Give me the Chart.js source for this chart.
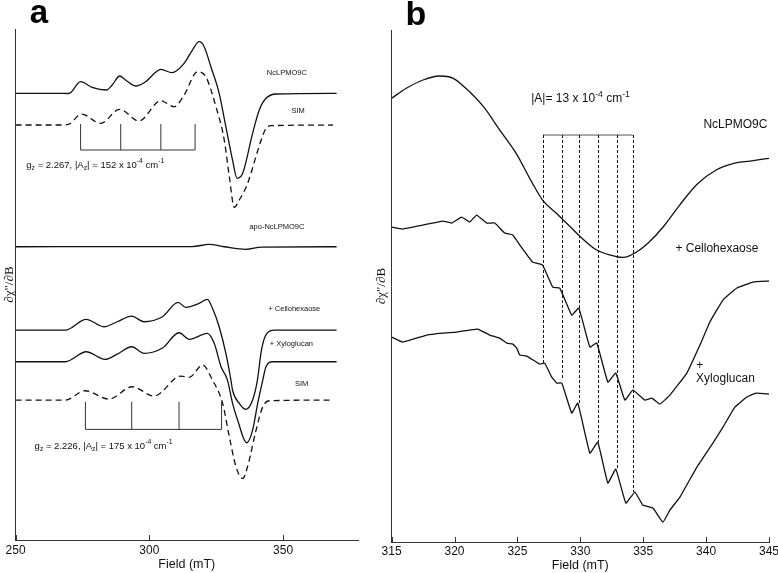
<!DOCTYPE html>
<html>
<head>
<meta charset="utf-8">
<script src="https://cdn.jsdelivr.net/npm/chart.js@4.4.1/dist/chart.umd.min.js"></script>
<style>
  body { margin: 0; background: #fff; width: 778px; height: 573px; position: relative; overflow: hidden; }
  canvas { position: absolute; top: 0; }
  #ca { left: 0; }
  #cb { left: 372px; }
</style>
</head>
<body>
<canvas id="ca" width="372" height="573"></canvas>
<canvas id="cb" width="406" height="573"></canvas>
<script>
  // ---- panel a : X-band spectra, field (mT) vs stacked intensity (arb.)
  const ncFieldA = [250, 265, 269.9, 274.3, 278.6, 283.9, 286.1, 288.9, 291.1, 294.9, 298.6, 304.3, 308.4, 313, 316.1, 318.6, 320.5, 323, 326.1, 328.6, 331.1, 332.8, 334.9, 338.6, 341.1, 343.6, 347.4, 370];
  const ncIntA = [446.7, 446.7, 446.5, 458.3, 452.7, 450, 455, 464, 460, 454, 458.3, 470.7, 467.3, 476.7, 490, 498.3, 493.3, 473.3, 446.7, 413.3, 380, 361.7, 366.7, 406.7, 430, 441.7, 446, 446.7];

  const simFieldA = [250, 266, 270, 274.6, 281.8, 288.9, 296.1, 304.3, 309.3, 313, 318, 321.1, 324.9, 328, 329.9, 331.75, 333.6, 336.5, 341.8, 343.6, 345.5, 368.6];
  const simIntA = [415, 415, 416, 426, 416.7, 430.7, 419, 439.3, 433.3, 445, 468.3, 463.3, 433.3, 400, 363.3, 332.7, 340, 355, 400, 411.7, 414.3, 415];

  const apoFieldA = [250, 300, 316, 322.4, 328, 336.1, 342, 370];
  const apoIntA = [293.3, 293.5, 293.4, 295.7, 293.3, 290.7, 293, 293.3];

  const celloFieldA = [250, 268.6, 276.4, 283, 288, 293.4, 298, 304.9, 310.75, 313.6, 318.6, 321.7, 323.6, 326.1, 328.6, 330.5, 331.1, 333.6, 336.1, 338.6, 340.4, 341.9, 343.75, 346.75, 370];
  const celloIntA = [210, 210, 220.7, 213.3, 218.3, 224, 218.3, 223.3, 237.7, 232.7, 236.7, 240.7, 231.7, 213.3, 186.7, 160, 150, 136.7, 130.7, 140, 160, 190, 206, 210, 210];

  const xyloFieldA = [250, 268.6, 276.4, 283.4, 288, 293.4, 298, 304.9, 311.1, 314.9, 321.7, 324.25, 326.8, 329.2, 331.1, 333, 336.4, 338.6, 340.5, 342.4, 343.6, 346.1, 370];
  const xyloIntA = [178.3, 178.3, 188.3, 180.7, 186, 193.3, 186.7, 192, 207.3, 200.7, 206.7, 196.7, 173.3, 160, 136.7, 120, 97.3, 110, 136.7, 160, 173.3, 178.3, 178.3];

  const sim2FieldA = [250, 268.6, 275.9, 284.9, 293.6, 301.75, 311.8, 314.9, 319.9, 323.6, 327.4, 329.9, 332.4, 334.9, 336.7, 339.9, 342.4, 344.9, 368.6];
  const sim2IntA = [140, 140, 149.3, 141, 153.3, 144, 164, 162.7, 175, 160, 136.7, 103.3, 73.3, 61.7, 73.3, 110, 133.3, 139.3, 140];

  // hyperfine line positions (mT)
  const sticksTopA = [274.3, 289.3, 304.3, 317.1];
  const sticksBotA = [276.1, 293.4, 311.1, 327.0];
  const ticksA = [250, 300, 350];

  // ---- panel b : expanded region
  const ncFieldB = [315, 316.17, 317.5, 318.8, 319.9, 320.9, 322.3, 323.6, 324.9, 326.2, 327.0, 328.1, 329.2, 330.0, 331.3, 332.9, 333.4, 334.5, 335.5, 336.6, 337.9, 339.3, 340.8, 342.2, 343.5, 345];
  const ncIntB = [443.7, 453.7, 462, 466, 463.7, 453.7, 435.3, 412, 388.7, 358.7, 342, 328.7, 315.3, 305.3, 292, 285.3, 284.7, 290.3, 300.3, 315.3, 337, 358, 372, 378.7, 381, 383.7];

  const celloFieldB = [315, 315.88, 317.47, 319.06, 319.77, 320.57, 321.21, 321.76, 322.56, 323.2, 323.99, 324.63, 325.19, 326.2, 327.0, 327.81, 328.37, 329.32, 329.88, 330.76, 331.31, 332.19, 332.82, 333.54, 334.18, 335.13, 335.69, 336.33, 337.12, 338.47, 339.51, 340.3, 341.34, 342.45, 343.73, 345];
  const celloIntB = [315, 313, 317, 321, 319, 325, 320, 327, 319, 319, 309, 307, 297, 280, 277, 255, 254, 227, 234, 195, 199, 160, 169, 142, 152, 142, 144, 138, 147, 169, 197, 220, 242, 254, 260, 261];

  const xyloFieldB = [315, 315.88, 317.79, 319.06, 320.17, 321.21, 321.84, 322.8, 323.59, 324.15, 324.63, 324.95, 325.19, 325.74, 326.78, 327.17, 327.73, 328.13, 328.53, 329.32, 329.8, 330.76, 331.39, 332.19, 332.82, 333.62, 334.34, 334.97, 335.77, 336.57, 337.12, 337.92, 339.27, 340.54, 341.34, 342.29, 343.25, 343.97, 345];
  const xyloIntB = [205, 200, 207, 209, 210, 212, 213, 207, 204, 199, 198, 194, 187, 186, 178, 179, 165, 159, 159, 129, 139, 89, 100, 59, 73, 39, 50, 37, 34, 20, 32, 45, 75, 99, 115, 135, 145, 149, 148];

  const hfLinesB = [327.04, 328.55, 329.9, 331.37, 332.88, 334.2];
  const hfEndsB = [179, 162, 139, 100, 73, 50];

  const SANS = '"Liberation Sans", Arial, sans-serif';

  function pts(f, v) { return f.map((x, i) => ({ x: x, y: v[i] })); }

  function trace(f, v, dashed, smooth) {
    return {
      data: pts(f, v),
      borderColor: '#111',
      borderWidth: 1.3,
      pointRadius: 0,
      borderDash: dashed ? [6, 4] : [],
      cubicInterpolationMode: smooth ? 'monotone' : 'default',
      tension: smooth ? 0 : 0.1,
      fill: false
    };
  }

  // draw text with sub (1) / sup (2) parts
  function rich(ctx, x, y, parts, size, align) {
    const small = size * 0.72;
    let w = 0;
    parts.forEach(([t, m]) => { ctx.font = (m ? small : size) + 'px ' + SANS; w += ctx.measureText(t).width; });
    let cx = align === 'center' ? x - w / 2 : x;
    ctx.textAlign = 'left';
    ctx.textBaseline = 'middle';
    parts.forEach(([t, m]) => {
      ctx.font = (m ? small : size) + 'px ' + SANS;
      const dy = m === 1 ? size * 0.32 : m === 2 ? -size * 0.4 : 0;
      ctx.fillText(t, cx, y + dy);
      cx += ctx.measureText(t).width;
    });
  }

  function sticks(ctx, x, y, pos, top, bar) {
    ctx.beginPath();
    pos.forEach(p => {
      ctx.moveTo(x.getPixelForValue(p), y.getPixelForValue(top));
      ctx.lineTo(x.getPixelForValue(p), y.getPixelForValue(bar));
    });
    ctx.moveTo(x.getPixelForValue(pos[0]), y.getPixelForValue(bar));
    ctx.lineTo(x.getPixelForValue(pos[pos.length - 1]), y.getPixelForValue(bar));
    ctx.stroke();
  }

  // small tick marks pointing up into the plot
  function innerTicks(chart) {
    const { ctx, scales: { x }, chartArea } = chart;
    ctx.save();
    ctx.strokeStyle = '#333';
    ctx.lineWidth = 1;
    ctx.beginPath();
    x.ticks.forEach(t => {
      const px = Math.round(x.getPixelForValue(t.value)) + 0.5;
      ctx.moveTo(px, chartArea.bottom);
      ctx.lineTo(px, chartArea.bottom - 5);
    });
    ctx.stroke();
    ctx.restore();
  }

  function letter(ctx, txt, x, y, size) {
    ctx.save();
    ctx.fillStyle = '#000';
    ctx.font = 'bold ' + size + 'px ' + SANS;
    ctx.textAlign = 'center';
    ctx.textBaseline = 'alphabetic';
    ctx.fillText(txt, x, y);
    ctx.restore();
  }

  const notesA = {
    id: 'notesA',
    afterDatasetsDraw(chart) {
      const { ctx, scales: { x, y } } = chart;
      ctx.save();
      ctx.strokeStyle = '#333';
      ctx.lineWidth = 1;
      sticks(ctx, x, y, sticksTopA, 416, 390);
      sticks(ctx, x, y, sticksBotA, 138.3, 110.7);
      ctx.fillStyle = '#111';
      const lab = [['NcLPMO9C', 351.4, 467.3], ['SIM', 355.6, 429], ['apo-NcLPMO9C', 347.7, 313.3],
                   ['+ Cellohexaose', 354.2, 230.7], ['+ Xyloglucan', 353.1, 195.7], ['SIM', 356.9, 156]];
      lab.forEach(([t, fx, fy]) => rich(ctx, x.getPixelForValue(fx), y.getPixelForValue(fy), [[t, 0]], 7.5, 'center'));
      rich(ctx, x.getPixelForValue(254), y.getPixelForValue(375),
        [['g', 0], ['z', 1], [' = 2.267, |A', 0], ['z', 1], ['| = 152 x 10', 0], ['-4', 2], [' cm', 0], ['-1', 2]], 9.5, 'left');
      rich(ctx, x.getPixelForValue(257.1), y.getPixelForValue(94),
        [['g', 0], ['z', 1], [' = 2.226, |A', 0], ['z', 1], ['| = 175 x 10', 0], ['-4', 2], [' cm', 0], ['-1', 2]], 9.5, 'left');
      ctx.restore();
    },
    afterDraw(chart) {
      innerTicks(chart);
      letter(chart.ctx, 'a', 39, 23, 33);
    }
  };

  const notesB = {
    id: 'notesB',
    afterDatasetsDraw(chart) {
      const { ctx, scales: { x, y } } = chart;
      ctx.save();
      ctx.strokeStyle = '#555';
      ctx.lineWidth = 1;
      ctx.beginPath();
      ctx.moveTo(x.getPixelForValue(hfLinesB[0]), y.getPixelForValue(407));
      ctx.lineTo(x.getPixelForValue(hfLinesB[hfLinesB.length - 1]), y.getPixelForValue(407));
      ctx.stroke();
      ctx.strokeStyle = '#111';
      ctx.setLineDash([3, 2]);
      hfLinesB.forEach((p, i) => {
        const px = Math.round(x.getPixelForValue(p)) + 0.5;
        ctx.beginPath();
        ctx.moveTo(px, y.getPixelForValue(407));
        ctx.lineTo(px, y.getPixelForValue(hfEndsB[i]));
        ctx.stroke();
      });
      ctx.setLineDash([]);
      ctx.fillStyle = '#111';
      rich(ctx, x.getPixelForValue(326.1), y.getPixelForValue(443),
        [['|A|= 13 x 10', 0], ['-4', 2], [' cm', 0], ['-1', 2]], 12, 'left');
      rich(ctx, x.getPixelForValue(342.33), y.getPixelForValue(417), [['NcLPMO9C', 0]], 12, 'center');
      rich(ctx, x.getPixelForValue(340.86), y.getPixelForValue(293.7), [['+ Cellohexaose', 0]], 12, 'center');
      rich(ctx, x.getPixelForValue(339.5), y.getPixelForValue(176), [['+', 0]], 12, 'center');
      rich(ctx, x.getPixelForValue(341.54), y.getPixelForValue(163), [['Xyloglucan', 0]], 12, 'center');
      ctx.restore();
    },
    afterDraw(chart) {
      innerTicks(chart);
      letter(chart.ctx, 'b', 44, 25, 34);
    }
  };

  function xAxis(min, max, tickPad) {
    return {
      type: 'linear', min: min, max: max,
      border: { color: '#333', width: 1 },
      grid: { display: false, drawTicks: false },
      ticks: { color: '#111', padding: tickPad, font: { family: SANS, size: 12 }, maxRotation: 0 },
      title: { display: true, text: 'Field (mT)', color: '#111', font: { family: SANS, size: 12.5 }, padding: { top: -3.5, bottom: 0 } }
    };
  }

  function yAxis(max, padBottom) {
    return {
      type: 'linear', min: 0, max: max,
      border: { color: '#333', width: 1 },
      grid: { display: false, drawTicks: false },
      ticks: { display: false },
      title: { display: true, text: '∂χ"/∂B', color: '#111', font: { family: '"Liberation Serif", "DejaVu Serif", serif', size: 13 }, padding: { top: 2, bottom: padBottom } }
    };
  }

  const common = {
    responsive: false,
    animation: false,
    events: [],
    plugins: { legend: { display: false }, tooltip: { enabled: false } }
  };

  const xa = xAxis(250, 378, 3);
  xa.afterBuildTicks = scale => { scale.ticks = ticksA.map(v => ({ value: v })); };

  new Chart(document.getElementById('ca'), {
    type: 'line',
    data: {
      datasets: [
        trace(ncFieldA, ncIntA, false, true),
        trace(simFieldA, simIntA, true, true),
        trace(apoFieldA, apoIntA, false, true),
        trace(celloFieldA, celloIntA, false, true),
        trace(xyloFieldA, xyloIntA, false, true),
        trace(sim2FieldA, sim2IntA, true, true)
      ]
    },
    options: Object.assign({}, common, {
      layout: { padding: { left: 0, right: 14, top: 29, bottom: 1 } },
      scales: { x: xa, y: yAxis(511, -2) }
    }),
    plugins: [notesA]
  });

  const xb = xAxis(315, 345, 2.5);
  xb.ticks.stepSize = 5;
  // let the last label run to the page edge, as in the original
  xb.afterFit = scale => { scale.paddingRight = 0; };

  new Chart(document.getElementById('cb'), {
    type: 'line',
    data: {
      datasets: [
        trace(ncFieldB, ncIntB, false, true),
        trace(celloFieldB, celloIntB, false, false),
        trace(xyloFieldB, xyloIntB, false, false)
      ]
    },
    options: Object.assign({}, common, {
      layout: { padding: { left: 0, right: 9, top: 30, bottom: 0 } },
      scales: { x: xb, y: yAxis(512, 2) }
    }),
    plugins: [notesB]
  });
</script>
</body>
</html>
